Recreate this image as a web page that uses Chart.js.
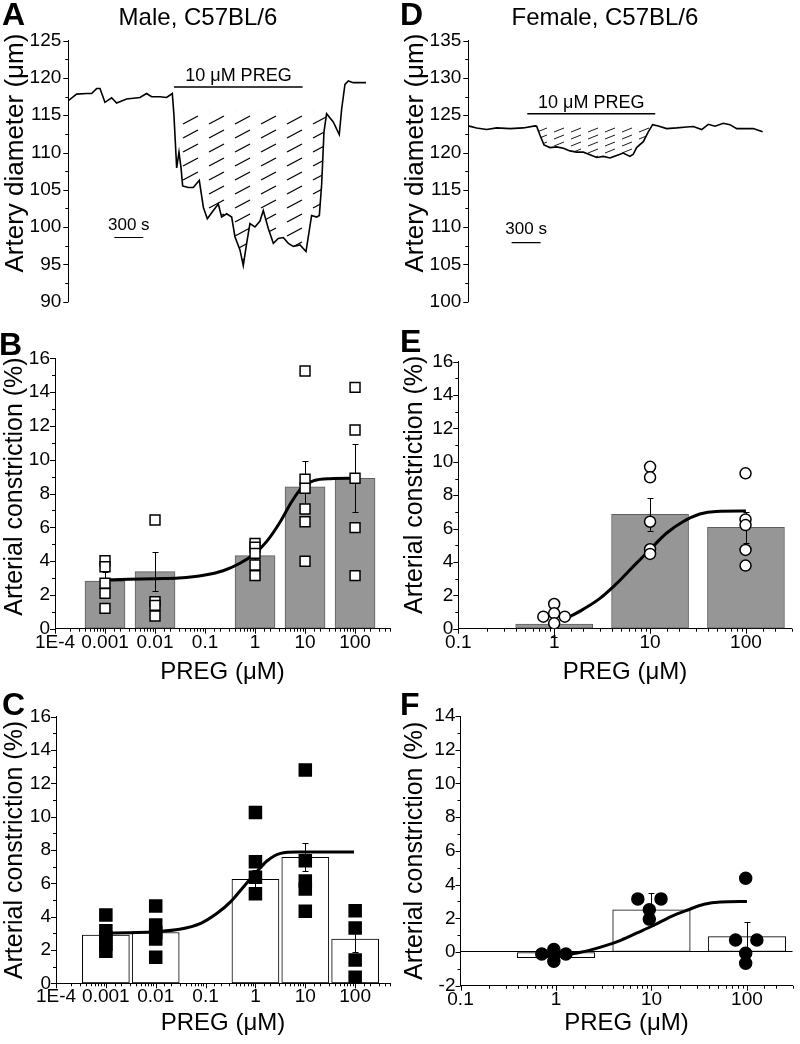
<!DOCTYPE html>
<html>
<head>
<meta charset="utf-8">
<script src="https://cdn.jsdelivr.net/npm/chart.js@4/dist/chart.umd.min.js"></script>
<style>
  html, body { margin: 0; padding: 0; background: #fff; }
  #fig { position: relative; width: 800px; height: 1044px; overflow: hidden; font-family: "Liberation Sans", Arial, sans-serif; color: #000; }
  #fig canvas { position: absolute; }
  .letter { position: absolute; font-weight: bold; font-size: 32px; line-height: 1; }
  .heading { position: absolute; width: 300px; text-align: center; font-size: 24px; line-height: 1; }
</style>
</head>
<body>
<div id="fig">
  <canvas id="chartA" width="400" height="320" style="left:0;top:0"></canvas>
  <canvas id="chartD" width="400" height="320" style="left:400px;top:0"></canvas>
  <canvas id="chartB" width="400" height="360" style="left:0;top:330px"></canvas>
  <canvas id="chartE" width="400" height="360" style="left:400px;top:330px"></canvas>
  <canvas id="chartC" width="400" height="354" style="left:0;top:690px"></canvas>
  <canvas id="chartF" width="400" height="354" style="left:400px;top:690px"></canvas>

  <div class="letter" style="left:2px;top:-2px">A</div>
  <div class="letter" style="left:-1px;top:328px">B</div>
  <div class="letter" style="left:2px;top:688px">C</div>
  <div class="letter" style="left:400px;top:-2px">D</div>
  <div class="letter" style="left:400px;top:325px">E</div>
  <div class="letter" style="left:400px;top:688px">F</div>
  <div class="heading" style="left:48px;top:5px">Male, C57BL/6</div>
  <div class="heading" style="left:455px;top:5px">Female, C57BL/6</div>
</div>
<script>
// traces, time in s and diameter in µm
const maleTime = [0, 86, 190, 241, 293, 328, 379, 448, 500, 603, 741, 810, 862, 948, 1017, 1076, 1093, 1121, 1145, 1166,
  1183, 1241, 1293, 1355, 1397, 1438, 1500, 1552, 1586, 1638, 1690, 1724, 1776, 1810, 1845, 1879, 1931, 1983, 2017, 2069,
  2121, 2172, 2224, 2276, 2328, 2397, 2459, 2483, 2517, 2569, 2597, 2621, 2645, 2672, 2741, 2803, 2828, 2862, 2897, 2948,
  3017, 3079];
const maleDiam = [116.95, 117.83, 117.92, 117.92, 118.58, 118.58, 116.73, 117.35, 116.64, 117.17, 117.39, 117.92, 117.48, 117.48, 117.39, 117.92, 114.97, 107.94, 110.05, 107.94,
  105.52, 105.3, 105.3, 106.27, 102.66, 101.12, 102.22, 103.1, 101.34, 101.78, 101.34, 98.7, 96.94, 94.83, 97.82, 100.46, 100.02, 100.81, 102.22, 99.8,
  97.82, 98.48, 98.6, 97.82, 97.4, 97.6, 96.72, 98.7, 101.56, 101.34, 101.56, 105.74, 112.77, 115.2, 114.1, 112.42, 115.85, 119.15, 119.59, 119.37,
  119.37, 119.37];
const maleDrug = [1093, 2424];
const maleHatch = [1093, 2672];
const maleScaleBar = [476, 776];

const femaleTime = [0, 86, 190, 293, 431, 569, 690, 707, 741, 783, 845, 914, 983, 1052, 1121, 1190, 1259, 1328, 1397, 1466,
  1535, 1603, 1672, 1707, 1741, 1810, 1862, 1907, 1965, 2052, 2155, 2259, 2328, 2414, 2483, 2552, 2638, 2707, 2776, 2879,
  2948, 3000, 3045];
const femaleDiam = [123.57, 123.3, 123.08, 123.3, 123.21, 123.3, 123.57, 123.52, 122.34, 121.02, 120.66, 120.75, 120.58, 120.22, 120.05, 120.05, 119.7, 119.34, 119.48, 119.26,
  119.6, 119.92, 119.48, 119.78, 120.66, 121.46, 122.77, 123.74, 123.57, 123.21, 123.3, 123.43, 123.48, 123.08, 123.79, 123.52, 123.92, 123.74, 123.21, 123.21,
  123.21, 122.99, 122.77];
const femaleDrug = [610, 1934];
const femaleHatch = [707, 1907];
const femaleScaleBar = [448, 748];

// concentration-response, PREG in µM, constriction in %
const maleConc = [0.001, 0.01, 1, 10, 100];
const maleMeanB = [2.82, 3.38, 4.32, 8.4, 8.9];
const maleSemB = [0.55, 1.15, 0.35, 1.54, 2.0];
const maleCellsB = [[4.02, 3.67, 2.69, 2.09, 1.2], [6.43, 1.6, 1.38, 0.75], [5.05, 4.82, 4.46, 3.77, 3.14],
  [15.25, 8.84, 8.31, 7.08, 6.33, 3.99], [14.28, 11.76, 8.9, 5.98, 3.14]];
const fitConcB = [0.001, 0.003, 0.01, 0.03, 0.1, 0.23, 0.5, 1, 1.7, 3.2, 5.4, 8.6, 15, 32, 100];
const fitValB = [2.88, 2.92, 2.96, 3.0, 3.18, 3.43, 3.87, 4.46, 5.15, 6.33, 7.51, 8.34, 8.76, 8.88, 8.9];

const maleMeanC = [2.9, 3.05, 6.24, 7.56, 2.66];
const maleSemC = [0.4, 0.4, 0.55, 0.84, 0.8];
const maleCellsC = [[4.1, 3.15, 2.75, 2.35, 1.92], [4.64, 3.5, 3.05, 2.66, 1.56], [10.25, 7.3, 6.37, 5.37],
  [12.8, 7.36, 6.14, 5.66, 4.33], [4.36, 3.32, 1.4, 0.36]];
const fitConcC = [0.001, 0.003, 0.01, 0.03, 0.08, 0.17, 0.32, 0.58, 1, 1.7, 3.2, 6.8, 20, 95];
const fitValC = [3.0, 3.04, 3.1, 3.24, 3.6, 4.2, 4.9, 5.8, 6.6, 7.34, 7.8, 7.88, 7.88, 7.88];

const femaleConc = [1, 10, 100];
const femaleMeanE = [0.28, 6.85, 6.07];
const femaleSemE = [0.8, 1.0, 0.95];
const cellXE = [0.77, 1, 1, 1.29, 1, 10, 10, 10, 10, 10, 99, 99, 99, 99, 99];
const cellYE = [0.72, 1.48, 0.92, 0.72, 0.32, 9.7, 9.07, 6.41, 4.76, 4.48, 9.31, 6.55, 6.21, 4.72, 3.78];
const fitConcE = [1.35, 2.0, 3.0, 4.5, 6.65, 9.9, 14.8, 22, 33, 49, 100];
const fitValE = [0.62, 1.16, 1.82, 2.72, 3.72, 4.72, 5.72, 6.41, 6.87, 7.03, 7.05];

const femaleMeanF = [-0.34, 2.5, 0.91];
const femaleSemF = [0.2, 0.98, 0.89];
const cellXF = [0.71, 0.95, 0.95, 0.95, 1.27, 7.2, 12.6, 9.5, 9.5, 97, 76, 127, 97, 97];
const cellYF = [-0.12, 0.15, -0.15, -0.55, -0.12, 3.15, 3.15, 2.5, 1.95, 4.37, 0.71, 0.71, -0.08, -0.67];
const fitConcF = [1.46, 2.17, 3.24, 4.83, 7.2, 10.7, 16, 23.9, 35.5, 53, 100];
const fitValF = [-0.12, 0.08, 0.36, 0.71, 1.15, 1.6, 2.1, 2.49, 2.83, 2.97, 3.0];

const maleTickLabels = ['1E-4', '0.001', '0.01', '0.1', '1', '10', '100'];
const femaleTickLabels = ['0.1', '1', '10', '100'];

const FONT = '"Liberation Sans", Arial, sans-serif';
Chart.defaults.font.family = FONT;
Chart.defaults.color = '#000';
Chart.defaults.animation = false;
Chart.defaults.plugins.legend.display = false;
Chart.defaults.plugins.tooltip.enabled = false;

const pts = (xs, ys) => xs.map((x, i) => ({ x, y: ys[i] }));
const within = (xs, ys, [a, b]) => pts(xs, ys).filter((p) => p.x >= a && p.x <= b);
const groups = (conc, cells) => conc.flatMap((c, i) => cells[i].map((y) => ({ x: c, y })));
// leading spaces nudge a centred, rotated axis title towards the top of its axis
const lift = (text, n) => ' '.repeat(n) + text;

function hatch(w, h, x0, y0, x1, y1, lw) {
  const c = document.createElement('canvas');
  c.width = w;
  c.height = h;
  const g = c.getContext('2d');
  g.strokeStyle = '#000';
  g.lineWidth = lw;
  g.beginPath();
  g.moveTo(x0, y0);
  g.lineTo(x1, y1);
  g.stroke();
  return g.createPattern(c, 'repeat');
}

// outward tick marks, long on major values and short between them
function tickMarks(majorStep) {
  return {
    id: 'tickMarks',
    afterDraw(chart) {
      const ctx = chart.ctx;
      ctx.save();
      ctx.strokeStyle = '#000';
      ctx.lineWidth = 1;
      for (const scale of Object.values(chart.scales)) {
        if (!scale.options.display) continue;
        for (const tick of scale.ticks) {
          let major;
          if (scale.type === 'logarithmic') {
            const e = Math.log10(tick.value);
            major = Math.abs(e - Math.round(e)) < 1e-6;
          } else {
            const r = tick.value / majorStep;
            major = Math.abs(r - Math.round(r)) < 1e-6;
          }
          const len = major ? 5 : 3;
          const p = Math.round(scale.getPixelForValue(tick.value)) + 0.5;
          ctx.beginPath();
          if (scale.isHorizontal()) {
            ctx.moveTo(p, scale.top);
            ctx.lineTo(p, scale.top + len);
          } else {
            ctx.moveTo(scale.right, p);
            ctx.lineTo(scale.right - len, p);
          }
          ctx.stroke();
        }
      }
      ctx.restore();
    }
  };
}

function errorBars(index, sem) {
  return {
    id: 'errorBars',
    afterDatasetDraw(chart, args) {
      if (args.index !== index) return;
      const { ctx } = chart;
      const y = chart.scales.y;
      ctx.save();
      ctx.strokeStyle = '#000';
      ctx.lineWidth = 1;
      args.meta.data.forEach((bar, i) => {
        const m = args.meta.controller.getParsed(i).y;
        const top = Math.round(y.getPixelForValue(m + sem[i])) + 0.5;
        const bot = Math.round(y.getPixelForValue(m - sem[i])) + 0.5;
        const x = Math.round(bar.x) + 0.5;
        ctx.beginPath();
        ctx.moveTo(x, top);
        ctx.lineTo(x, bot);
        ctx.moveTo(x - 3, top);
        ctx.lineTo(x + 3, top);
        ctx.moveTo(x - 3, bot);
        ctx.lineTo(x + 3, bot);
        ctx.stroke();
      });
      ctx.restore();
    }
  };
}

function notes(items) {
  return {
    id: 'notes',
    afterDatasetsDraw(chart) {
      const { ctx } = chart;
      const { x, y } = chart.scales;
      ctx.save();
      ctx.fillStyle = '#000';
      ctx.textAlign = 'center';
      ctx.textBaseline = 'middle';
      for (const n of items) {
        ctx.font = n.size + 'px ' + FONT;
        ctx.fillText(n.text, x.getPixelForValue(n.x), y.getPixelForValue(n.y));
      }
      ctx.restore();
    }
  };
}

function valueAxis(min, max, step, major, width, title, titleSize, pad, zeroLine) {
  return {
    type: 'linear',
    min,
    max,
    afterFit: (s) => { s.width = width; },
    border: { display: true, color: '#000', width: 1 },
    grid: {
      display: true,
      drawOnChartArea: !!zeroLine,
      drawTicks: false,
      lineWidth: 1,
      color: (c) => (c.tick && c.tick.value === 0 ? '#000' : 'rgba(0,0,0,0)')
    },
    ticks: {
      stepSize: step,
      autoSkip: false,
      padding: pad,
      font: { size: 19 },
      callback: (v) => {
        const r = v / major;
        return Math.abs(r - Math.round(r)) < 1e-6 ? v : '';
      }
    },
    title: { display: true, text: title, font: { size: titleSize }, padding: { top: 0, bottom: 0 } }
  };
}

function concAxis(min, max, labels, height, titlePad) {
  const minExp = Math.round(Math.log10(min));
  return {
    type: 'logarithmic',
    min,
    max,
    offset: false,
    afterFit: (s) => { s.height = height; },
    border: { display: true, color: '#000', width: 1 },
    grid: { display: true, drawOnChartArea: false, drawTicks: false, offset: false },
    ticks: {
      autoSkip: false,
      maxRotation: 0,
      minRotation: 0,
      padding: 2.5,
      font: { size: 19 },
      callback: (v) => {
        const e = Math.log10(v);
        const r = Math.round(e);
        return Math.abs(e - r) < 1e-6 && labels[r - minExp] !== undefined ? labels[r - minExp] : '';
      }
    },
    title: { display: true, text: 'PREG (μM)', font: { size: 24 }, padding: { top: 0, bottom: titlePad } }
  };
}

function traceChart(id, time, diam, drug, drugLevel, hatchRange, hatchTop, pattern, scaleBar, scaleLevel, yMin, yMax, noteItems) {
  new Chart(document.getElementById(id), {
    type: 'line',
    data: {
      datasets: [
        { data: pts(time, diam), borderColor: '#000', borderWidth: 1.6, pointRadius: 0, tension: 0, fill: false },
        { data: within(time, diam, hatchRange), borderWidth: 0, borderColor: 'rgba(0,0,0,0)', pointRadius: 0,
          fill: { value: hatchTop }, backgroundColor: pattern },
        { data: pts(drug, [drugLevel, drugLevel]), borderColor: '#000', borderWidth: 1.5, pointRadius: 0, fill: false },
        { data: pts(scaleBar, [scaleLevel, scaleLevel]), borderColor: '#000', borderWidth: 1.2, pointRadius: 0, fill: false }
      ]
    },
    options: {
      responsive: false,
      layout: { padding: { left: 0, top: 40.7, right: 12.7, bottom: 14 } },
      scales: {
        x: { type: 'linear', display: false, min: 0, max: 3300 },
        y: valueAxis(yMin, yMax, 2.5, 5, 68.3, lift('Artery diameter (μm)', 5), 26, 7)
      }
    },
    plugins: [tickMarks(5), notes(noteItems)]
  });
}

traceChart('chartA', maleTime, maleDiam, maleDrug, 118.8, maleHatch, 115.6,
  hatch(26, 14, 1, 12, 16, 4, 1.4), maleScaleBar, 98.6, 90, 125,
  [{ text: '10 μM PREG', x: 1760, y: 120.3, size: 18 }, { text: '300 s', x: 626, y: 100.2, size: 17 }]);

traceChart('chartD', femaleTime, femaleDiam, femaleDrug, 125.2, femaleHatch, 123.5,
  hatch(17, 7, 1, 6, 11, 2, 0.9), femaleScaleBar, 107.9, 100, 135,
  [{ text: '10 μM PREG', x: 1272, y: 126.7, size: 18 }, { text: '300 s', x: 598, y: 109.7, size: 17 }]);

function doseChart(id, cfg) {
  new Chart(document.getElementById(id), {
    type: 'bar',
    data: {
      datasets: [
        { type: 'line', data: cfg.cells, showLine: false, pointStyle: cfg.pointStyle, pointRadius: cfg.pointRadius,
          pointBackgroundColor: cfg.pointFill, pointBorderColor: '#000', pointBorderWidth: 1.5 },
        { type: 'line', data: pts(cfg.fitConc, cfg.fitVal), borderColor: '#000', borderWidth: 3, pointRadius: 0,
          cubicInterpolationMode: 'monotone', fill: false },
        { type: 'bar', data: pts(cfg.conc, cfg.mean), backgroundColor: cfg.barFill, borderColor: cfg.barBorder,
          borderWidth: 1, borderSkipped: false, barThickness: cfg.barThickness }
      ]
    },
    options: {
      responsive: false,
      layout: { padding: { left: 0, top: cfg.top, right: cfg.right, bottom: 0 } },
      scales: {
        x: concAxis(cfg.xMin, cfg.xMax, cfg.labels, cfg.xHeight, cfg.titlePad),
        y: valueAxis(cfg.yMin, cfg.yMax, 1, 2, cfg.yWidth, lift('Arterial constriction (%)', cfg.lift), 25, 5, cfg.zeroLine)
      }
    },
    plugins: [tickMarks(2), errorBars(2, cfg.sem)]
  });
}

doseChart('chartB', {
  cells: groups(maleConc, maleCellsB), pointStyle: 'rect', pointRadius: 7, pointFill: '#fff',
  fitConc: fitConcB, fitVal: fitValB, conc: maleConc, mean: maleMeanB, sem: maleSemB,
  barFill: '#969696', barBorder: '#5e5e5e', barThickness: 40,
  top: 28.3, right: 10, xMin: 1e-4, xMax: 500, labels: maleTickLabels, xHeight: 61.3, titlePad: 3.6,
  yMin: 0, yMax: 16, yWidth: 55, lift: 2
});

doseChart('chartC', {
  cells: groups(maleConc, maleCellsC), pointStyle: 'rect', pointRadius: 8.5, pointFill: '#000',
  fitConc: fitConcC, fitVal: fitValC, conc: maleConc, mean: maleMeanC, sem: maleSemC,
  barFill: '#fff', barBorder: '#000', barThickness: 47,
  top: 26.7, right: 10, xMin: 1e-4, xMax: 500, labels: maleTickLabels, xHeight: 60.7, titlePad: 6.6,
  yMin: 0, yMax: 16, yWidth: 56, lift: 0
});

doseChart('chartE', {
  cells: pts(cellXE, cellYE), pointStyle: 'circle', pointRadius: 5.5, pointFill: '#fff',
  fitConc: fitConcE, fitVal: fitValE, conc: femaleConc, mean: femaleMeanE, sem: femaleSemE,
  barFill: '#969696', barBorder: '#5e5e5e', barThickness: 77,
  top: 31.7, right: 8.3, xMin: 0.1, xMax: 300, labels: femaleTickLabels, xHeight: 61.3, titlePad: 3.6,
  yMin: 0, yMax: 16, yWidth: 58.3, lift: 3
});

doseChart('chartF', {
  cells: pts(cellXF, cellYF), pointStyle: 'circle', pointRadius: 6, pointFill: '#000',
  fitConc: fitConcF, fitVal: fitValF, conc: femaleConc, mean: femaleMeanF, sem: femaleSemF,
  barFill: '#fff', barBorder: '#000', barThickness: 77.5,
  top: 26, right: 1, xMin: 0.1, xMax: 300, labels: femaleTickLabels, xHeight: 58.3, titlePad: 6.6,
  yMin: -2, yMax: 14, yWidth: 60.5, lift: 0, zeroLine: true
});
</script>
</body>
</html>
